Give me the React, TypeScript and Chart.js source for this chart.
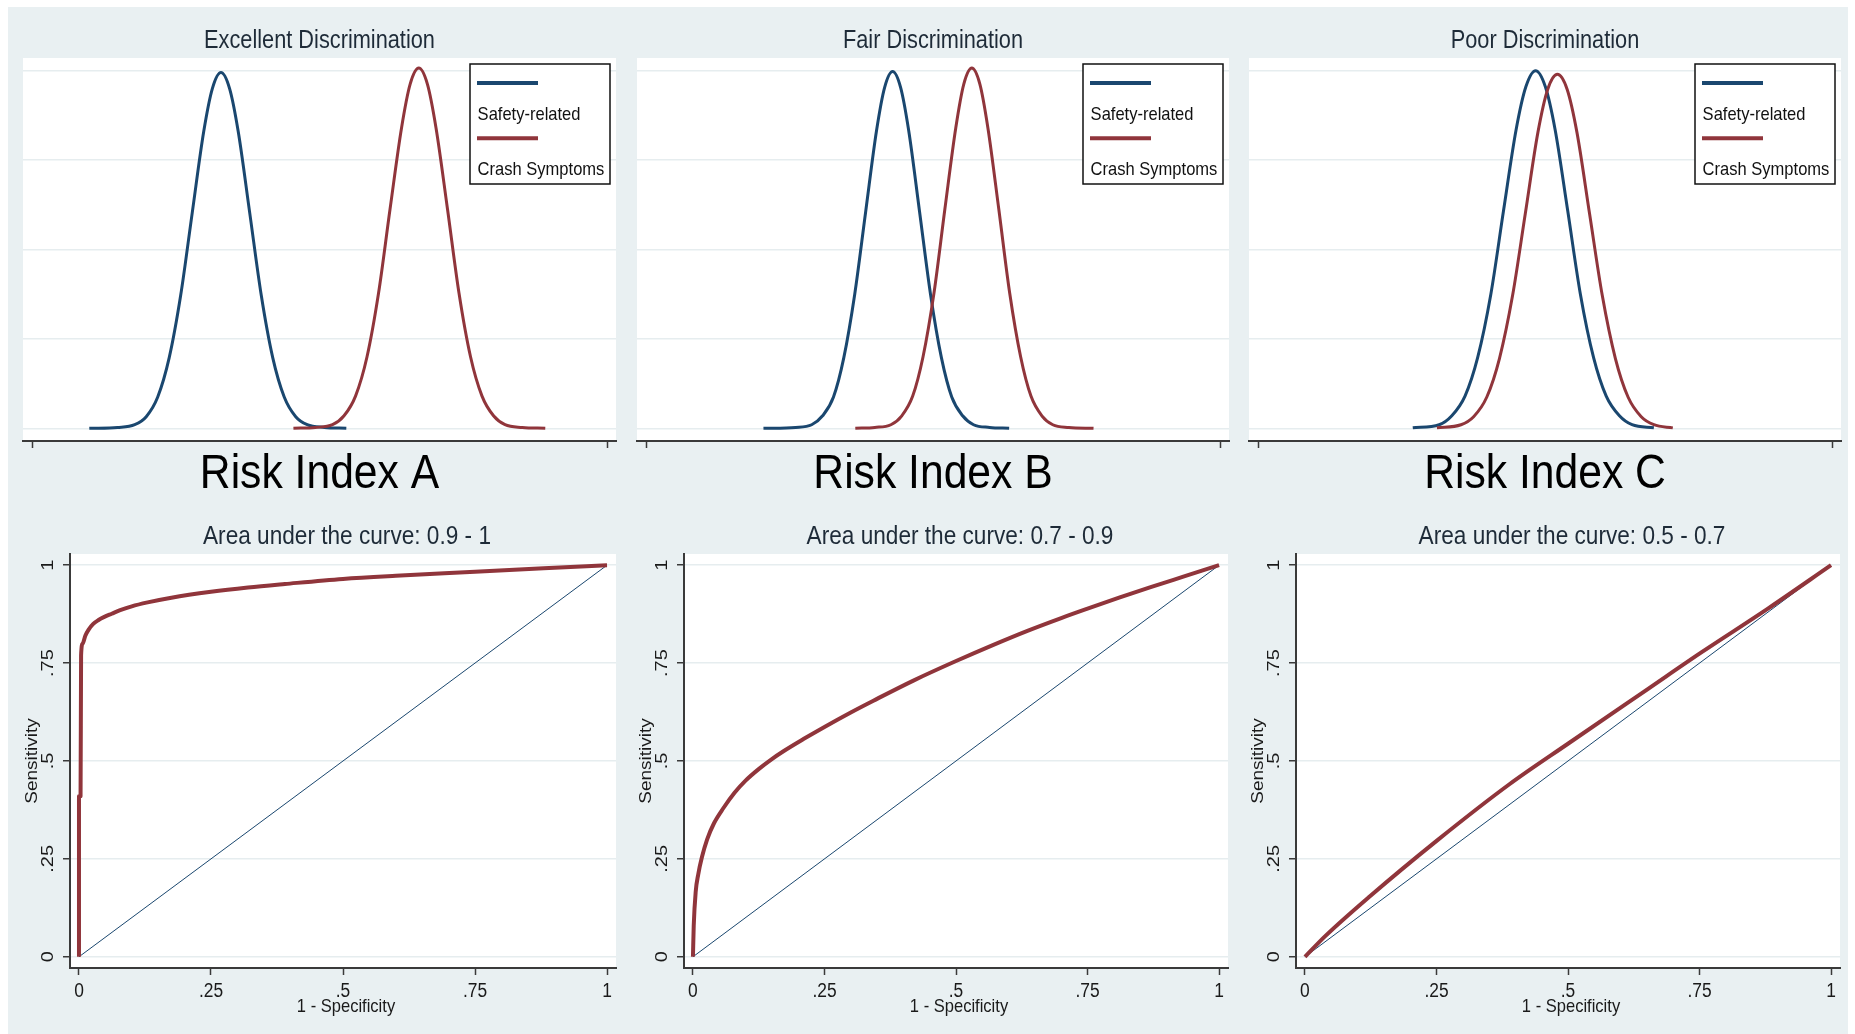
import React, { useEffect, useRef } from "react";
import { Chart, registerables } from "chart.js";
Chart.register(...registerables);

// ---------- DATA ----------
const densityTitles = ["Excellent Discrimination", "Fair Discrimination", "Poor Discrimination"];
const riskLabels = ["Risk Index A", "Risk Index B", "Risk Index C"];
const rocTitles = ["Area under the curve: 0.9 - 1", "Area under the curve: 0.7 - 0.9", "Area under the curve: 0.5 - 0.7"];
const seriesNames = ["Safety-related", "Crash Symptoms"];
const rocTickValues = [0, 0.25, 0.5, 0.75, 1];
const rocTickLabels = ["0", ".25", ".5", ".75", "1"];
const densityGridValues = [0, 1, 2, 3, 4];
const densityTickValues = [0, 100];
const rocAxisTitles = ["1 - Specificity", "Sensitivity"];

// Risk Index A densities
const densA_x_safety = [9.9, 14.8, 17.8, 19.8, 21.8, 23.8, 25.8, 27.8, 29.8, 31.3, 32.8, 34.3, 35.8, 37.8, 39.8, 41.8, 43.8, 45.8, 47.8, 50.8, 54.6];
const densA_y_safety = [0, 0.01, 0.04, 0.13, 0.35, 0.79, 1.49, 2.41, 3.32, 3.8, 3.98, 3.8, 3.32, 2.41, 1.49, 0.79, 0.35, 0.13, 0.04, 0.01, 0];
const densA_x_crash = [45.4, 49.2, 52.2, 54.2, 56.2, 58.2, 60.2, 62.2, 64.2, 65.7, 67.2, 68.7, 70.2, 72.2, 74.2, 76.2, 78.2, 80.2, 82.2, 85.2, 89.2];
const densA_y_crash = [0, 0.01, 0.04, 0.14, 0.36, 0.8, 1.51, 2.45, 3.36, 3.85, 4.03, 3.85, 3.36, 2.45, 1.51, 0.8, 0.36, 0.14, 0.04, 0.01, 0];

// Risk Index B densities
const densB_x_safety = [20.4, 26.0, 28.8, 30.7, 32.6, 34.4, 36.3, 38.2, 40.1, 41.5, 42.9, 44.3, 45.7, 47.6, 49.5, 51.4, 53.2, 55.1, 57.0, 59.8, 63.2];
const densB_y_safety = [0, 0.01, 0.04, 0.14, 0.35, 0.79, 1.5, 2.42, 3.33, 3.81, 3.99, 3.81, 3.33, 2.42, 1.5, 0.79, 0.35, 0.14, 0.04, 0.01, 0];
const densB_x_crash = [36.4, 39.8, 42.6, 44.5, 46.4, 48.2, 50.1, 52.0, 53.9, 55.3, 56.7, 58.1, 59.5, 61.4, 63.3, 65.2, 67.0, 68.9, 70.8, 73.6, 77.9];
const densB_y_crash = [0, 0.01, 0.04, 0.14, 0.36, 0.8, 1.51, 2.45, 3.36, 3.85, 4.03, 3.85, 3.36, 2.45, 1.51, 0.8, 0.36, 0.14, 0.04, 0.01, 0];

// Risk Index C densities
const densC_x_safety = [26.9, 31.5, 33.7, 36.0, 38.2, 40.5, 42.7, 44.9, 46.6, 48.3, 50.0, 51.7, 53.9, 56.1, 58.4, 60.6, 62.9, 65.1, 68.9];
const densC_y_safety = [0.005, 0.04, 0.14, 0.36, 0.79, 1.5, 2.43, 3.34, 3.82, 4.0, 3.82, 3.34, 2.43, 1.5, 0.79, 0.36, 0.14, 0.04, 0.005];
const densC_x_crash = [31.1, 35.3, 37.5, 39.8, 42.0, 44.3, 46.5, 48.7, 50.4, 52.1, 53.8, 55.5, 57.7, 59.9, 62.2, 64.4, 66.7, 68.9, 72.2];
const densC_y_crash = [0.005, 0.04, 0.13, 0.35, 0.78, 1.49, 2.4, 3.31, 3.79, 3.96, 3.79, 3.31, 2.4, 1.49, 0.78, 0.35, 0.13, 0.04, 0.005];

// ROC curves (1 - specificity, sensitivity)
const rocA_x = [0, 0, 0.003, 0.004, 0.007, 0.012, 0.018, 0.027, 0.037, 0.048, 0.062, 0.078, 0.1, 0.13, 0.175, 0.25, 0.32, 0.39, 0.5, 0.6, 0.75, 0.88, 1];
const rocA_y = [0, 0.41, 0.41, 0.77, 0.8, 0.82, 0.835, 0.85, 0.86, 0.868, 0.876, 0.885, 0.895, 0.905, 0.917, 0.932, 0.943, 0.952, 0.965, 0.973, 0.983, 0.992, 1];
const rocB_x = [0, 0.0015, 0.0053, 0.01, 0.017, 0.027, 0.04, 0.058, 0.079, 0.1, 0.1255, 0.15, 0.172, 0.21, 0.25, 0.3, 0.343, 0.42, 0.498, 0.57, 0.637, 0.7, 0.75, 0.81, 0.87, 0.935, 1];
const rocB_y = [0, 0.08, 0.167, 0.21, 0.254, 0.3, 0.341, 0.38, 0.419, 0.45, 0.48, 0.505, 0.525, 0.556, 0.587, 0.624, 0.654, 0.706, 0.754, 0.796, 0.833, 0.865, 0.889, 0.917, 0.944, 0.972, 1];
const rocC_x = [0, 0.0395, 0.123, 0.252, 0.388, 0.502, 0.653, 0.752, 0.88, 1];
const rocC_y = [0, 0.054, 0.154, 0.298, 0.44, 0.546, 0.685, 0.776, 0.889, 1];
const refLine_x = [0, 1];
const refLine_y = [0, 1];

// ---------- STYLE / LAYOUT ----------
const W = 1855, H = 1034;
const SQ = 0.87;
const NAVY = "#1a476f", MAROON = "#90353b";
const GRID = "#e6edef";
const AXIS = "#3a3a3a";
const BG = "#e9f0f2";
const TITLE_C = "#1e2b38";
const LABEL_C = "#1a1a1a";
const FONT = '"Liberation Sans", Arial, sans-serif';
const TOP_AREAS = [{ l: 23, r: 616 }, { l: 637, r: 1229 }, { l: 1249, r: 1841 }];
const BOT_AREAS = [{ l: 70, r: 616 }, { l: 684, r: 1228 }, { l: 1296, r: 1840 }];
const TOP_Y = { top: 58, bottom: 441 };
const BOT_Y = { top: 554, bottom: 968 };

const zip = (xs: number[], ys: number[]) => xs.map((x, i) => ({ x, y: ys[i] }));

function drawText(ctx: CanvasRenderingContext2D, t: string, x: number, y: number, size: number, color: string,
  align: CanvasTextAlign = "center", baseline: CanvasTextBaseline = "middle", rotate = false, squeeze = SQ) {
  ctx.save();
  ctx.translate(x, y);
  ctx.scale(squeeze, 1);
  if (rotate) ctx.rotate(-Math.PI / 2);
  ctx.font = `${size}px ${FONT}`;
  ctx.fillStyle = color;
  ctx.textAlign = align;
  ctx.textBaseline = baseline;
  ctx.fillText(t, 0, 0);
  ctx.restore();
}

const stataPlugin = {
  id: "stataDeco",
  beforeDraw(chart: any) {
    const { ctx, chartArea: a } = chart;
    ctx.save();
    ctx.fillStyle = "#ffffff";
    ctx.fillRect(a.left, a.top, a.right - a.left, a.bottom - a.top);
    ctx.restore();
  },
  afterDraw(chart: any, _args: any, opts: any) {
    const { ctx, chartArea: a } = chart;
    const cx = (a.left + a.right) / 2;
    if (opts.kind === "density") {
      drawText(ctx, opts.title, cx, 48, 25, TITLE_C, "center", "alphabetic");
      drawText(ctx, opts.label, cx, 488, 49, "#000000", "center", "alphabetic");
      const bw = 140, bh = 120;
      const bx = a.right - 6 - bw, by = a.top + 6;
      ctx.save();
      ctx.fillStyle = "#ffffff";
      ctx.fillRect(bx, by, bw, bh);
      ctx.strokeStyle = "#111111";
      ctx.lineWidth = 1.5;
      ctx.strokeRect(bx, by, bw, bh);
      chart.data.datasets.forEach((ds: any, i: number) => {
        const ly = by + 19 + i * 55.3;
        ctx.beginPath();
        ctx.strokeStyle = ds.borderColor;
        ctx.lineWidth = 4;
        ctx.moveTo(bx + 7, ly);
        ctx.lineTo(bx + 68, ly);
        ctx.stroke();
        drawText(ctx, ds.label, bx + 7.6, ly + 31.5, 19, "#111111", "left", "middle");
      });
      ctx.restore();
    } else {
      const xs = chart.scales.x, ys = chart.scales.y;
      drawText(ctx, opts.title, cx + 4, 544, 26, TITLE_C, "center", "alphabetic");
      rocTickValues.forEach((v, i) => {
        drawText(ctx, rocTickLabels[i], xs.getPixelForValue(v), 991, 20, LABEL_C, "center", "middle");
        drawText(ctx, rocTickLabels[i], a.left - 22, ys.getPixelForValue(v), 20, LABEL_C, "center", "middle", true);
      });
      drawText(ctx, rocAxisTitles[0], cx + 3, 1007, 19, LABEL_C, "center", "middle");
      drawText(ctx, rocAxisTitles[1], a.left - 38, (a.top + a.bottom) / 2, 19, LABEL_C, "center", "middle", true);
    }
  },
};

function densityConfig(i: number) {
  const xs = [densA_x_safety, densB_x_safety, densC_x_safety][i];
  const ys = [densA_y_safety, densB_y_safety, densC_y_safety][i];
  const xr = [densA_x_crash, densB_x_crash, densC_x_crash][i];
  const yr = [densA_y_crash, densB_y_crash, densC_y_crash][i];
  const area = TOP_AREAS[i];
  return {
    type: "line",
    data: {
      datasets: [
        { label: seriesNames[0], data: zip(xs, ys), borderColor: NAVY, borderWidth: 3, pointRadius: 0, cubicInterpolationMode: "monotone", fill: false, order: 1 },
        { label: seriesNames[1], data: zip(xr, yr), borderColor: MAROON, borderWidth: 3, pointRadius: 0, cubicInterpolationMode: "monotone", fill: false, order: 0 },
      ],
    },
    options: {
      responsive: false,
      animation: false,
      devicePixelRatio: 1,
      events: [],
      layout: { padding: { left: area.l, right: W - area.r, top: TOP_Y.top, bottom: H - TOP_Y.bottom } },
      plugins: {
        legend: { display: false },
        tooltip: { enabled: false },
        stataDeco: { kind: "density", title: densityTitles[i], label: riskLabels[i] },
      },
      scales: {
        x: {
          type: "linear", min: -1.63, max: 101.5,
          afterFit: (s: any) => { s.height = 0; },
          afterBuildTicks: (s: any) => { s.ticks = densityTickValues.map((v) => ({ value: v })); },
          ticks: { display: false },
          grid: { drawOnChartArea: false, drawTicks: true, tickLength: 7, tickColor: AXIS, tickWidth: 1.5 },
          border: { display: true, color: AXIS, width: 2 },
        },
        y: {
          type: "linear", min: -0.142, max: 4.142,
          afterFit: (s: any) => { s.width = 0; },
          afterBuildTicks: (s: any) => { s.ticks = densityGridValues.map((v) => ({ value: v })); },
          ticks: { display: false },
          grid: { color: GRID, lineWidth: 1.5, drawTicks: false },
          border: { display: false },
        },
      },
    },
    plugins: [stataPlugin],
  };
}

function rocConfig(i: number) {
  const rx = [rocA_x, rocB_x, rocC_x][i];
  const ry = [rocA_y, rocB_y, rocC_y][i];
  const area = BOT_AREAS[i];
  return {
    type: "line",
    data: {
      datasets: [
        { label: "ROC", data: zip(rx, ry), borderColor: MAROON, borderWidth: 4, pointRadius: 0, cubicInterpolationMode: "monotone", fill: false, order: 0, borderJoinStyle: "round" },
        { label: "Reference", data: zip(refLine_x, refLine_y), borderColor: NAVY, borderWidth: 1, pointRadius: 0, tension: 0, fill: false, order: 1 },
      ],
    },
    options: {
      responsive: false,
      animation: false,
      devicePixelRatio: 1,
      events: [],
      layout: { padding: { left: area.l, right: W - area.r, top: BOT_Y.top, bottom: H - BOT_Y.bottom } },
      plugins: {
        legend: { display: false },
        tooltip: { enabled: false },
        stataDeco: { kind: "roc", title: rocTitles[i] },
      },
      scales: {
        x: {
          type: "linear", min: -0.017, max: 1.017,
          afterFit: (s: any) => { s.height = 0; },
          afterBuildTicks: (s: any) => { s.ticks = rocTickValues.map((v) => ({ value: v })); },
          ticks: { display: false },
          grid: { drawOnChartArea: false, drawTicks: true, tickLength: 7, tickColor: AXIS, tickWidth: 1.5 },
          border: { display: true, color: AXIS, width: 2 },
        },
        y: {
          type: "linear", min: -0.0286, max: 1.0286,
          afterFit: (s: any) => { s.width = 0; },
          afterBuildTicks: (s: any) => { s.ticks = rocTickValues.map((v) => ({ value: v })); },
          ticks: { display: false },
          grid: { color: GRID, lineWidth: 1.5, drawTicks: true, tickLength: 7, tickColor: AXIS, tickWidth: 1.5 },
          border: { display: true, color: AXIS, width: 2 },
        },
      },
    },
    plugins: [stataPlugin],
  };
}

export default function App() {
  const refs = [useRef<HTMLCanvasElement>(null), useRef<HTMLCanvasElement>(null), useRef<HTMLCanvasElement>(null),
    useRef<HTMLCanvasElement>(null), useRef<HTMLCanvasElement>(null), useRef<HTMLCanvasElement>(null)];
  useEffect(() => {
    const charts: Chart[] = [];
    [0, 1, 2].forEach((i) => {
      const c1 = refs[i].current, c2 = refs[i + 3].current;
      if (c1) charts.push(new Chart(c1, densityConfig(i) as any));
      if (c2) charts.push(new Chart(c2, rocConfig(i) as any));
    });
    return () => charts.forEach((c) => c.destroy());
  }, []);
  return (
    <div style={{ position: "fixed", left: 0, top: 0, width: W, height: H, background: "#ffffff", overflow: "hidden" }}>
      <div style={{ position: "absolute", left: 8, top: 7, width: 1840, height: H - 7, background: BG }} />
      {refs.map((r, k) => (
        <canvas key={k} ref={r} width={W} height={H}
          style={{ position: "absolute", left: 0, top: 0, width: W, height: H }} />
      ))}
    </div>
  );
}
